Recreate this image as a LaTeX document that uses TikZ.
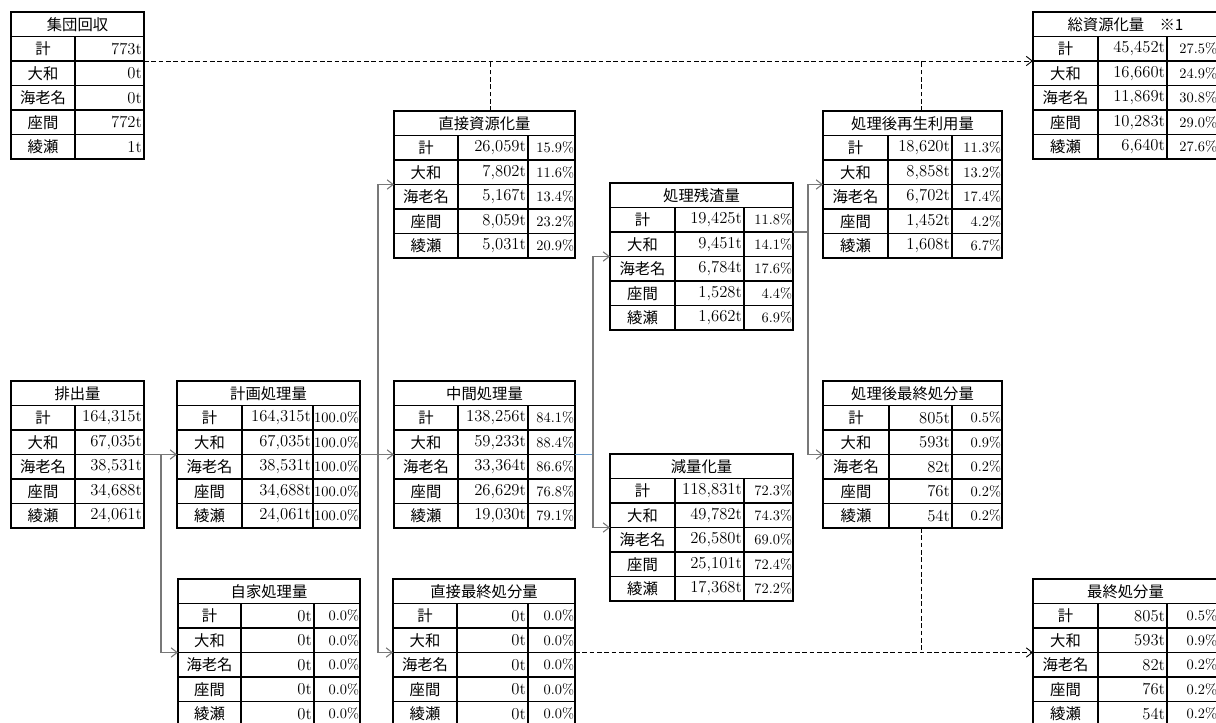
\documentclass[tikz,border=0pt]{standalone}
\usepackage{fontspec}
\usepackage{tikz}
\usetikzlibrary{arrows.meta, calc}
\newfontfamily\jp{Noto Sans CJK JP}
\definecolor{linkgray}{RGB}{120,120,120}
\definecolor{linkblue}{RGB}{110,160,210}

\tikzstyle{cell}       = [draw, line width=1.1pt, outer sep=0pt, inner sep=0pt, minimum height=18.375pt, anchor=north west]
\tikzstyle{headcell}   = [cell, font=\jp\fontsize{11.5}{13}\selectfont]
\tikzstyle{labelcell}  = [cell, font=\jp\fontsize{11.5}{13}\selectfont]
\tikzstyle{numcell}    = [cell, align=right, font=\fontsize{12.5}{14}\selectfont]
\tikzstyle{pctcell}    = [cell, align=right, font=\fontsize{10.8}{13}\selectfont]
\tikzstyle{tableframe} = [draw, line width=1.5pt, outer sep=0pt, inner sep=0pt, minimum height=110.25pt, anchor=north west]
\tikzstyle{link}       = [linkgray, line width=0.8pt, -{Straight Barb[length=4.5pt, width=7pt]}]
\tikzstyle{dashlink}   = [black, line width=0.7pt, dash pattern=on 3.5pt off 2pt, -{Straight Barb[length=4.5pt, width=7pt]}]
\tikzstyle{dashline}   = [black, line width=0.7pt, dash pattern=on 3.5pt off 2pt]

% table: name, x, y, column widths (px), title, rows
\newcommand{\datatable}[8]{%
  \pgfmathsetmacro{\wall}{(#4+#5+#6)*0.75}%
  \pgfmathsetmacro{\wlab}{#4*0.75}%
  \pgfmathsetmacro{\wval}{#5*0.75}%
  \pgfmathsetmacro{\tval}{(#5-4)*0.75}%
  \pgfmathsetmacro{\wpct}{#6*0.75}%
  \pgfmathsetmacro{\tpct}{(#6-2)*0.75}%
  \node[headcell, minimum width=\wall pt] (#1-head) at (#2,#3) {#7};
  \foreach \lab/\val/\pct [count=\i] in {#8} {
    \node[labelcell, minimum width=\wlab pt] (#1-\i) at (#2,#3+24.5*\i) {\lab};
    \node[numcell, minimum width=\wval pt, text width=\tval pt] (#1-\i-v) at (#2+#4,#3+24.5*\i) {\val};
    \ifdim#6pt>0pt
      \node[pctcell, minimum width=\wpct pt, text width=\tpct pt] (#1-\i-p) at (#2+#4+#5,#3+24.5*\i) {\pct};
    \fi
  }
  \node[tableframe, minimum width=\wall pt] (#1) at (#2,#3) {};
}

\begin{document}
\begin{tikzpicture}[x=0.75pt, y=-0.75pt]
\useasboundingbox (0,0) rectangle (1216,722);

\datatable{shudan}{11}{12}{64}{69}{0}{集団回収}%
  {計/773t/{},大和/0t/{},海老名/0t/{},座間/772t/{},綾瀬/1t/{}}
\datatable{haishutsu}{11}{381}{64}{69}{0}{排出量}%
  {計/{164,315t}/{},大和/{67,035t}/{},海老名/{38,531t}/{},座間/{34,688t}/{},綾瀬/{24,061t}/{}}
\datatable{keikaku}{177}{381}{65}{71}{47}{計画処理量}%
  {計/{164,315t}/100.0\%,大和/{67,035t}/100.0\%,海老名/{38,531t}/100.0\%,座間/{34,688t}/100.0\%,綾瀬/{24,061t}/100.0\%}
\datatable{jika}{178}{579}{63}{73}{46}{自家処理量}%
  {計/0t/0.0\%,大和/0t/0.0\%,海老名/0t/0.0\%,座間/0t/0.0\%,綾瀬/0t/0.0\%}
\datatable{chokushigen}{394}{111}{64}{70}{47}{直接資源化量}%
  {計/{26,059t}/15.9\%,大和/{7,802t}/11.6\%,海老名/{5,167t}/13.4\%,座間/{8,059t}/23.2\%,綾瀬/{5,031t}/20.9\%}
\datatable{chukan}{394}{381}{64}{70}{47}{中間処理量}%
  {計/{138,256t}/84.1\%,大和/{59,233t}/88.4\%,海老名/{33,364t}/86.6\%,座間/{26,629t}/76.8\%,綾瀬/{19,030t}/79.1\%}
\datatable{chokusai}{393}{579}{64}{71}{47}{直接最終処分量}%
  {計/0t/0.0\%,大和/0t/0.0\%,海老名/0t/0.0\%,座間/0t/0.0\%,綾瀬/0t/0.0\%}
\datatable{zansa}{610}{183}{65}{69}{49}{処理残渣量}%
  {計/{19,425t}/11.8\%,大和/{9,451t}/14.1\%,海老名/{6,784t}/17.6\%,座間/{1,528t}/4.4\%,綾瀬/{1,662t}/6.9\%}
\datatable{genryo}{610}{454}{65}{69}{49}{減量化量}%
  {計/{118,831t}/72.3\%,大和/{49,782t}/74.3\%,海老名/{26,580t}/69.0\%,座間/{25,101t}/72.4\%,綾瀬/{17,368t}/72.2\%}
\datatable{saisei}{823}{111}{65}{64}{50}{処理後再生利用量}%
  {計/{18,620t}/11.3\%,大和/{8,858t}/13.2\%,海老名/{6,702t}/17.4\%,座間/{1,452t}/4.2\%,綾瀬/{1,608t}/6.7\%}
\datatable{shorigo}{823}{381}{66}{63}{50}{処理後最終処分量}%
  {計/805t/0.5\%,大和/593t/0.9\%,海老名/82t/0.2\%,座間/76t/0.2\%,綾瀬/54t/0.2\%}
\datatable{soshigen}{1033}{12}{65}{69}{51}{総資源化量　※1}%
  {計/{45,452t}/27.5\%,大和/{16,660t}/24.9\%,海老名/{11,869t}/30.8\%,座間/{10,283t}/29.0\%,綾瀬/{6,640t}/27.6\%}
\datatable{saishu}{1033}{579}{65}{69}{51}{最終処分量}%
  {計/805t/0.5\%,大和/593t/0.9\%,海老名/82t/0.2\%,座間/76t/0.2\%,綾瀬/54t/0.2\%}

% branch points
\coordinate (j1) at (161,0);
\coordinate (j2) at (378,0);
\coordinate (j3) at (593,0);
\coordinate (j4) at (808,0);
\coordinate (j5) at (490,0);
\coordinate (j6) at (921,0);

\draw[link] (haishutsu.east) -- (keikaku.west);
\draw[link] (j1 |- haishutsu.east) |- (jika.west);
\draw[link] (keikaku.east) -- (chukan.west);
\draw[link] (j2 |- keikaku.east) |- (chokushigen.west);
\draw[link] (j2 |- keikaku.east) |- (chokusai.west);
\draw[linkblue, line width=0.8pt] (chukan.east) -- (j3 |- chukan.east);
\draw[link] (j3 |- chukan.east) |- (zansa.west);
\draw[link] (j3 |- chukan.east) |- (genryo.west);
\draw[linkgray, line width=0.8pt] (zansa-2-p.north east) -- (j4 |- zansa-2-p.north east);
\draw[link] (j4 |- zansa-2-p.north east) |- (saisei.west);
\draw[link] (j4 |- zansa-2-p.north east) |- (shorigo.west);

% dashed: to totals
\draw[dashlink] (shudan-1-v.south east) -- (soshigen-2.north west);
\draw[dashline] (j5 |- chokushigen.north) -- (j5 |- shudan-2.north);
\draw[dashline] (j6 |- saisei.north) -- (j6 |- shudan-2.north);
\draw[dashlink] (chokusai.east) -- (saishu.west);
\draw[dashline] (j6 |- shorigo.south) -- (j6 |- chokusai.east);

\end{tikzpicture}
\end{document}
